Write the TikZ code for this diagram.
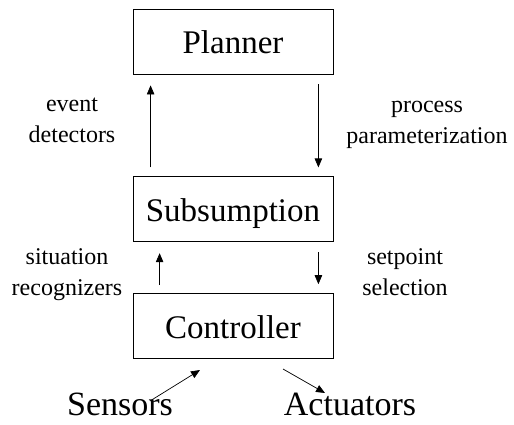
\documentclass[tikz,border=0pt]{standalone}
\usepackage{fontspec}
\setmainfont{Liberation Serif}
\usetikzlibrary{arrows.meta,positioning}
\tikzset{
  layer-box/.style={
    draw=black,
    line width=0.8pt,
    minimum width=200pt,
    minimum height=65pt,
    inner sep=0pt,
    text height=24pt,
    text depth=0pt,
    font=\fontsize{33}{40}\selectfont
  },
  io-text/.style={inner sep=0pt, font=\fontsize{34}{40}\selectfont},
  flow-label/.style={inner sep=0pt, align=center, font=\fontsize{24}{31}\selectfont},
  flow-arrow/.style={line width=0.7pt, -{Triangle[length=9pt,width=7.5pt]}}
}

\begin{document}
\begin{tikzpicture}[x=1pt, y=-1pt, node distance=102pt]
  \useasboundingbox (0,0) rectangle (514,424);
  % Layers
  \node[layer-box] (planner) at (233,41.5) {Planner};
  \node[layer-box, below=102pt of planner] (subsumption) {Subsumption};
  \node[layer-box, below=51pt of subsumption] (controller) {Controller};
  % Inputs and outputs
  \node[io-text] (sensors) at (120,404) {Sensors};
  \node[io-text] (actuators) at (350,404) {Actuators};
  % Planner <-> Subsumption
  \draw[flow-arrow] ([xshift=18pt,yshift=9pt]subsumption.north west) -- ([xshift=18pt,yshift=-11pt]planner.south west);
  \draw[flow-arrow] ([xshift=-15pt,yshift=-10pt]planner.south east) -- ([xshift=-15pt,yshift=9pt]subsumption.north east);
  \node[flow-label] (event) at (72,120.5) {event\\detectors};
  \node[flow-label] (process) at (427,124.5) {process\\parameterization};
  % Subsumption <-> Controller
  \draw[flow-arrow] ([xshift=27pt,yshift=8pt]controller.north west) -- ([xshift=27pt,yshift=-11pt]subsumption.south west);
  \draw[flow-arrow] ([xshift=-15pt,yshift=-10pt]subsumption.south east) -- ([xshift=-15pt,yshift=9pt]controller.north east);
  \node[flow-label] (situation) at (67,274.5) {situation\\recognizers};
  \node[flow-label] (setpoint) at (405,272) {setpoint\\selection};
  % Sensors and actuators
  \draw[flow-arrow] ([xshift=30pt,yshift=3pt]sensors.center) -- ([xshift=-33pt,yshift=-11pt]controller.south);
  \draw[flow-arrow] ([xshift=50pt,yshift=-10pt]controller.south) -- ([xshift=-25pt,yshift=11pt]actuators.center);
\end{tikzpicture}
\end{document}
